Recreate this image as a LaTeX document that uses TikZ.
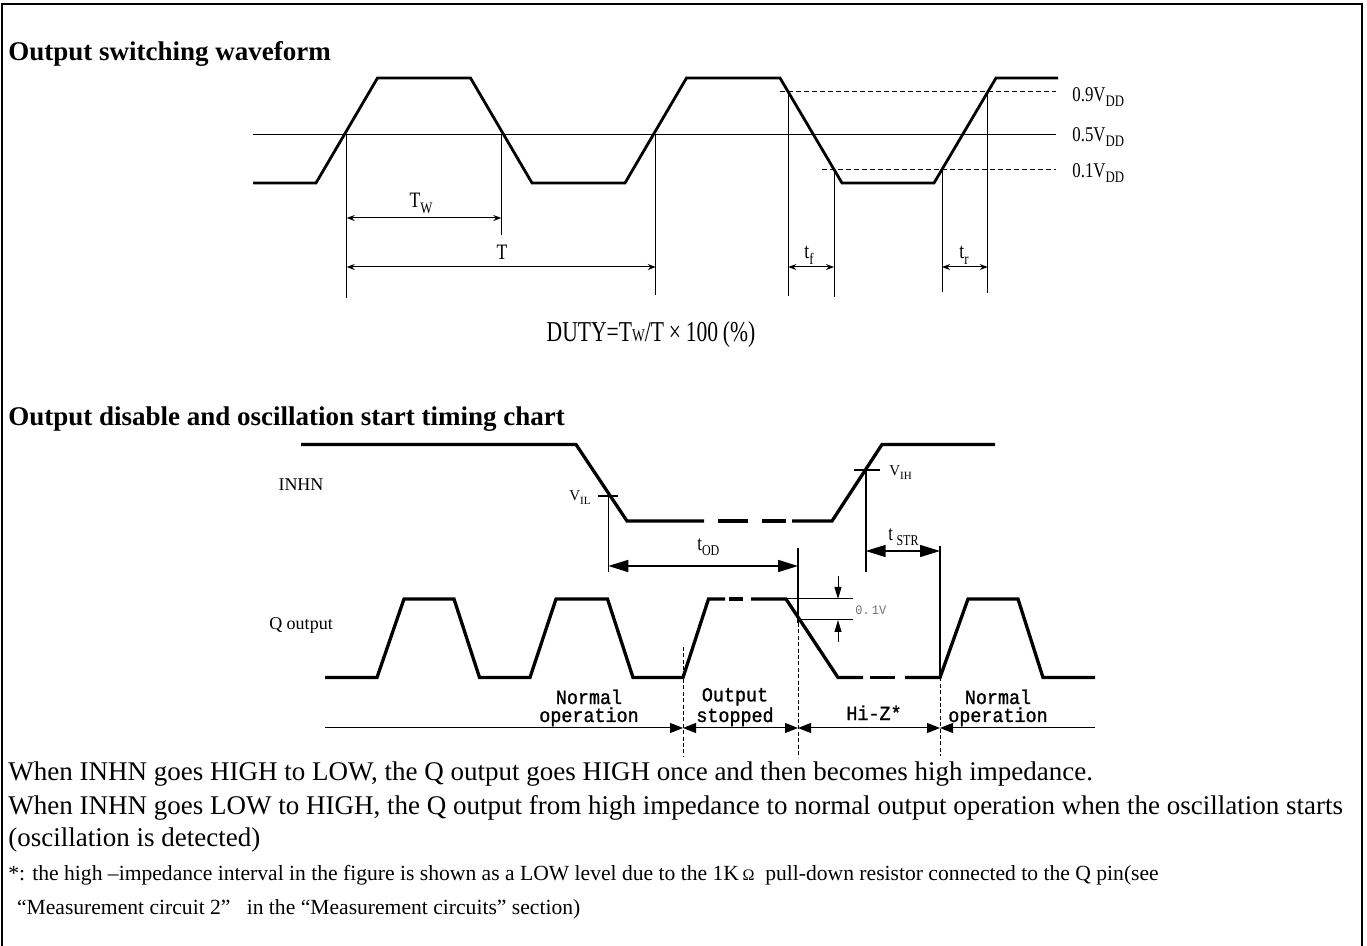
\documentclass[tikz,border=0pt]{standalone}
\usepackage{fontspec}
\setmainfont{Liberation Serif}
\newfontfamily\condf[FakeStretch=0.8]{Liberation Serif}
\newfontfamily\dutyf[FakeStretch=0.75]{Liberation Serif}
\newfontfamily\monof[FakeStretch=0.92]{Liberation Mono}
\newfontfamily\monobf[FakeStretch=0.92,FakeBold=1.2]{Liberation Mono}
\usetikzlibrary{arrows.meta}
\begin{document}
\begin{tikzpicture}[x=0.5pt,y=-0.5pt,
  frameline/.style={line width=1.3pt},
  wavetop/.style={line width=1.4pt,line join=miter},
  wavebot/.style={line width=1.65pt,line join=miter},
  thinl/.style={line width=0.5pt},
  midl/.style={line width=0.6pt},
  dashl/.style={line width=0.5pt,dash pattern=on 2.5pt off 1.5pt},
  vdash/.style={line width=0.4pt,dash pattern=on 2pt off 1.2pt},
  dimsmall/.style={line width=0.5pt,{Stealth[length=4pt,width=3pt]}-{Stealth[length=4pt,width=3pt]}},
  dimbig/.style={line width=0.8pt,{Triangle[length=10pt,width=6pt]}-{Triangle[length=10pt,width=6pt]}},
  vtick/.style={line width=0.5pt,-{Triangle[length=6pt,width=3.5pt]}},
  tlhead/.style={line width=0.5pt},
  tlab/.style={font=\condf\fontsize{11}{12}\selectfont,inner sep=0pt},
  vddlab/.style={font=\condf\fontsize{10.5}{12}\selectfont,anchor=base west,inner sep=0pt},
  sig/.style={font=\fontsize{9}{11}\selectfont},
  vlab/.style={font=\fontsize{7.5}{9}\selectfont,inner sep=0pt},
  phase/.style={font=\monobf\fontsize{10}{9}\selectfont,align=center,anchor=base,inner sep=0pt},
  title/.style={font=\bfseries\fontsize{13.5}{15}\selectfont,anchor=base west,inner sep=0pt},
  body/.style={font=\fontsize{13.5}{15}\selectfont,anchor=base west,inner sep=0pt},
  note/.style={font=\fontsize{10.8}{13}\selectfont,anchor=base west,inner sep=0pt}
]
\useasboundingbox (0,0) rectangle (1367,946);
\draw[frameline] (2,946) -- (2,4) -- (1362,4) -- (1362,946);

% ---------- Output switching waveform ----------
\node[title] (t1) at (8,61) {Output switching waveform};

\draw[midl] (253,134.3) coordinate (m0) -- (1056,134.3) coordinate (m1);
\draw[dashl] (780,92) coordinate (d90a) -- (1056,92) coordinate (d90b);
\draw[dashl] (822,169.5) coordinate (d10a) -- (1056,169.5) coordinate (d10b);
\draw[wavetop] (253,183) -- (316,183) -- (377.5,78) -- (470.5,78) -- (532,183)
  -- (625,183) -- (686.5,78) -- (780,78) -- (842,183) -- (934,183) -- (996,78) -- (1058,78);

\coordinate (c1) at (346.75,134.3);
\coordinate (c2) at (501.25,134.3);
\coordinate (c3) at (655.75,134.3);
\coordinate (f9) at (788.3,92);
\coordinate (f1) at (834,169.5);
\coordinate (r1) at (942,169.5);
\coordinate (r9) at (987.7,92);
\draw[thinl] (c1) -- ++(0,164) coordinate (c1b);
\draw[thinl] (c2) -- ++(0,101) coordinate (c2b);
\draw[thinl] (c3) -- ++(0,161) coordinate (c3b);
\draw[thinl] (f9) -- ++(0,204) coordinate (f9b);
\draw[thinl] (f1) -- ++(0,128) coordinate (f1b);
\draw[thinl] (r1) -- ++(0,123) coordinate (r1b);
\draw[thinl] (r9) -- ++(0,201) coordinate (r9b);

\draw[dimsmall] (c1 |- 0,218) coordinate (tw0) -- (c2 |- 0,218) coordinate (tw1);
\draw[dimsmall] (c1 |- 0,267) coordinate (tt0) -- (c3 |- 0,267) coordinate (tt1);
\draw[dimsmall] (f9 |- 0,267) coordinate (tf0) -- (f1 |- 0,267) coordinate (tf1);
\draw[dimsmall] (r1 |- 0,267) coordinate (tr0) -- (r9 |- 0,267) coordinate (tr1);

\node[tlab,anchor=base] (lTw) at (421,208) {T\raisebox{-3pt}{\fontsize{8}{8}\selectfont W}};
\node[tlab,anchor=base] (lT) at (502,260) {T};
\node[tlab,anchor=base] (ltf) at (809,259) {t\raisebox{-3pt}{\fontsize{8}{8}\selectfont f}};
\node[tlab,anchor=base] (ltr) at (964,259) {t\raisebox{-3pt}{\fontsize{8}{8}\selectfont r}};

\node[vddlab] (l09) at (1072,102) {0.9V\raisebox{-2.5pt}{\fontsize{8}{8}\selectfont DD}};
\node[vddlab] (l05) at (1072,142) {0.5V\raisebox{-2.5pt}{\fontsize{8}{8}\selectfont DD}};
\node[vddlab] (l01) at (1072,178) {0.1V\raisebox{-2.5pt}{\fontsize{8}{8}\selectfont DD}};

\node[font=\dutyf\fontsize{14.4}{16}\selectfont] (duty) at (651,335)
  {DUTY=T{\fontsize{9}{10}\selectfont W}/T\,×\,100\,(\%)};

% ---------- Output disable timing chart ----------
\node[title] (t2) at (8,426) {Output disable and oscillation start timing chart};

\node[sig] (inhn) at (301,485) {INHN};
\node[sig] (qout) at (301,625) {Q output};

% INHN
\draw[wavebot] (301,444.5) -- (576,444.5) -- (627,521) -- (704,521);
\draw[wavebot] (718,521) -- (748,521);
\draw[wavebot] (762,521) -- (786,521);
\draw[wavebot] (792,521) -- (832,521) -- (882,444.5) -- (995,444.5);

% V_IL / V_IH
\coordinate (vil) at (608.3,496);
\coordinate (vih) at (865.7,470);
\draw[line width=1pt] (598,496) -- (618,496);
\draw[line width=1pt] (854,470) -- (880,470);
\node[vlab,anchor=base east] (lvil) at (591,501) {V\raisebox{-2pt}{\fontsize{5.5}{6}\selectfont IL}};
\node[vlab,anchor=base west] (lvih) at (889,476) {V\raisebox{-2pt}{\fontsize{5.5}{6}\selectfont IH}};
\draw[line width=0.8pt] (vil) -- (vil |- 0,572) coordinate (vilb);
\draw[line width=0.8pt] (vih) -- (vih |- 0,572) coordinate (vihb);

% t_OD and t_STR
\coordinate (od1) at (798,547.7);
\coordinate (str1) at (940,546);
\draw[line width=0.8pt] (od1) -- (798,623) coordinate (od1m);
\draw[line width=0.8pt] (str1) -- (940,677.5) coordinate (str1b);
\draw[dimbig] (vil |- 0,566) coordinate (tod0) -- (od1 |- 0,566) coordinate (tod1);
\draw[dimbig] (vih |- 0,551) coordinate (tst0) -- (str1 |- 0,551) coordinate (tst1);
\node[tlab,anchor=base west,font=\condf\fontsize{10.5}{12}\selectfont] (ltod) at (697,551) {t\raisebox{-2.5pt}{\fontsize{7.5}{8}\selectfont OD}};
\node[tlab,anchor=base west,font=\condf\fontsize{10.5}{12}\selectfont] (ltstr) at (888,541) {t\,\raisebox{-2.5pt}{\fontsize{7.5}{8}\selectfont STR}};

% Q output
\draw[wavebot] (325,677.5) -- (377,677.5) -- (404,599) -- (454,599) -- (479.5,677.5)
  -- (530,677.5) -- (556,599) -- (607.5,599) -- (633,677.5) -- (683,677.5) -- (708.5,599) -- (725,599);
\draw[wavebot] (729,599) -- (743,599);
\draw[wavebot] (751,599) -- (786,599) -- (838,677.5) -- (863,677.5);
\draw[wavebot] (870,677.5) -- (895,677.5);
\draw[wavebot] (905,677.5) -- (940,677.5) -- (968,599) -- (1018,599) -- (1043,677.5) -- (1095,677.5);

% 0.1V marker
\draw[thinl] (786,599) -- (853,599);
\draw[thinl] (799,620) -- (853,620);
\draw[vtick] (838,575.7) -- (838,599);
\draw[vtick] (838,641.7) -- (838,620);
\node[font=\monof\fontsize{6.5}{8}\selectfont,text=black!55,anchor=west,inner sep=0pt] (l01v) at (855,610) {0.\,1V};

% dashed phase boundaries
\draw[vdash] (683,647) coordinate (b1) -- (683,756) coordinate (b1b);
\draw[vdash] (od1m) -- (798,756) coordinate (b2b);
\draw[vdash] (str1b) -- (940,756) coordinate (b3b);

% timeline
\coordinate (tl0) at (325,728);
\coordinate (tl1) at (683,728);
\coordinate (tl2) at (798,728);
\coordinate (tl3) at (940,728);
\coordinate (tl4) at (1095,728);
\draw[tlhead,-{Triangle[length=6.5pt,width=5pt]}] (tl0) -- (tl1);
\draw[tlhead,{Triangle[length=6.5pt,width=5pt]}-{Triangle[length=6.5pt,width=5pt]}] (tl1) -- (tl2);
\draw[tlhead,{Triangle[length=6.5pt,width=5pt]}-{Triangle[length=6.5pt,width=5pt]}] (tl2) -- (tl3);
\draw[tlhead,{Triangle[length=6.5pt,width=5pt]}-] (tl3) -- (tl4);

\node[phase] (p1) at (589,722) {Normal\\operation};
\node[phase] (p2) at (735,722) {Output\\stopped};
\node[phase] (p3) at (874,720) {Hi-Z*};
\node[phase] (p4) at (998,722) {Normal\\operation};

% ---------- notes ----------
\node[body] (n1) at (8,781) {When INHN goes HIGH to LOW, the Q output goes HIGH once and then becomes high impedance.};
\node[body] (n2) at (8,814) {When INHN goes LOW to HIGH, the Q output from high impedance to normal output operation when the oscillation starts};
\node[body] (n3) at (8,847) {(oscillation is detected)};
\node[note] (n4) at (8,880) {*: the high –impedance interval in the figure is shown as a LOW level due to the 1K\,{\fontsize{8}{9}\selectfont Ω}\ \ pull-down resistor connected to the Q pin(see};
\node[note] (n5) at (8,914) {\hspace{0.4em}“Measurement circuit 2”\hspace{0.5em} in the “Measurement circuits” section)};
\end{tikzpicture}
\end{document}
